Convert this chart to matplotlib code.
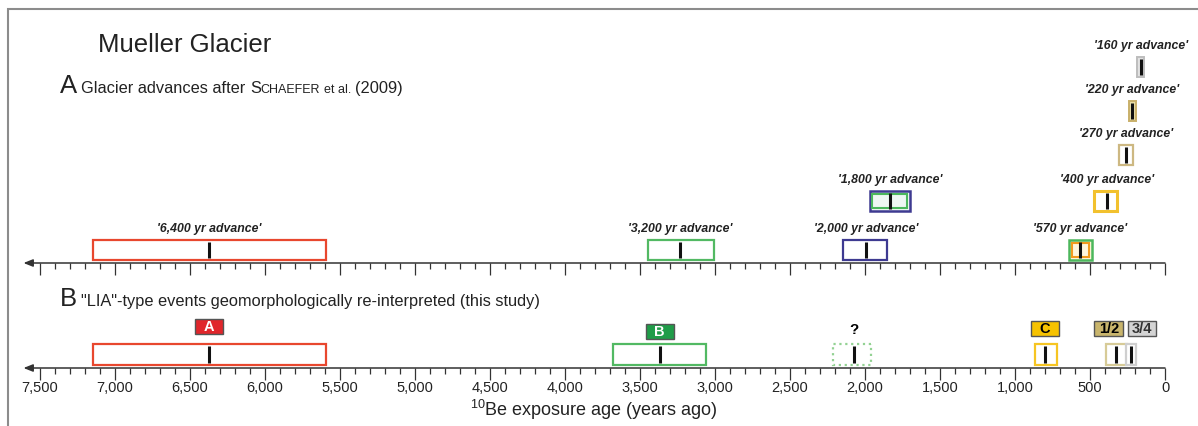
import matplotlib.pyplot as plt
from matplotlib.patches import Rectangle
import numpy as np

plt.rcParams['font.family'] = ['Liberation Sans', 'DejaVu Sans']
plt.rcParams['mathtext.fontset'] = 'custom'
plt.rcParams['mathtext.rm'] = 'Liberation Sans'

W, H = 1198, 427
X0, SC = 1165, 0.15   # pixel of 0 yr, pixels per year

# panel A: advances after Schaefer et al. (2009), years ago
a_names = ["'6,400 yr advance'", "'3,200 yr advance'", "'2,000 yr advance'",
           "'1,800 yr advance'", "'570 yr advance'", "'400 yr advance'",
           "'270 yr advance'", "'220 yr advance'", "'160 yr advance'"]
a_mid = [6373, 3233, 1993, 1833, 567, 387, 262, 220, 160]
a_old = [7150, 3450, 2145, 1970, 640, 473, 305, 240, 187]
a_young = [5595, 3005, 1855, 1700, 487, 320, 213, 193, 137]

# panel B: "LIA"-type events re-interpreted
b_names = ['A', 'B', '?', 'C', '1/2', '3/4']
b_mid = [6373, 3370, 2073, 800, 327, 227]
b_old = [7150, 3680, 2213, 867, 393, 260]
b_young = [5595, 3060, 1960, 720, 253, 193]

ticks = list(range(0, 7501, 500))
minor = list(range(0, 7501, 100))

# styles
a_row = [0, 0, 0, 1, 0, 1, 2, 3, 4]
a_edge = ['#e8472e', '#52b963', '#3e3a91', '#3e3a91', '#4cb75c', '#f2c12e', '#cdb882', '#c9b06a', '#bdbdbd']
a_inner = [None, None, None, '#4cb75c', '#f29a1f', None, None, None, None]
a_fill = ['white', 'white', 'white', '#eef7f2', '#fff6dc', 'white', 'white', '#e9dfa8', '#e2e2e2']
a_lw = [1.6, 1.6, 1.6, 1.8, 1.8, 2.2, 1.6, 1.4, 1.4]

b_edge = ['#e8472e', '#52b963', '#93d293', '#f6c522', '#d7cb97', '#cfcfcf']
b_ls = ['-', '-', ':', '-', '-', '-']
b_lab_fc = ['#e0262b', '#1f9c48', None, '#f6c200', '#c9b56c', '#d4d4d4']
b_lab_tc = ['white', 'white', 'black', 'black', 'black', '#333333']
b_lab_dx = [0, 0, 0, 0, -7, 11]
b_lab_w = [28, 28, 0, 28, 29, 28]
b_lab_y = [327, 332, 330, 329, 329, 329]

fig = plt.figure(figsize=(W / 100, H / 100), dpi=100)
ax = fig.add_axes([0, 0, 1, 1])
ax.set_xlim(X0 / SC, (X0 - W) / SC)
ax.set_ylim(H, 0)
ax.axis('off')

# frame
fig.patches.append(Rectangle((8 / W, -0.1), 1.2, 1.1 - 10 / H, transform=fig.transFigure,
                             fill=False, ec='#8c8c8c', lw=1.5))


def time_axis(y):
    ax.annotate('', xy=(7610, y), xytext=(0, y),
                arrowprops=dict(arrowstyle='-|>,head_length=0.55,head_width=0.22',
                                color='#333333', lw=1.1, shrinkA=0, shrinkB=0))
    for v in minor:
        L = 12 if v % 500 == 0 else 6
        ax.plot([v, v], [y, y + L], color='#333333', lw=0.9, solid_capstyle='butt')


def box(old, young, top, h, ec, lw, fc='white', ls='-', z=2):
    ax.add_patch(Rectangle((young, top), old - young, h, fc=fc, ec=ec, lw=lw, ls=ls, zorder=z))


def mid_line(x, top, h):
    ax.plot([x, x], [top + 2, top + h - 2], color='#111111', lw=2.2, zorder=5, solid_capstyle='butt')


# ---- panel A ----
yA = 264
time_axis(yA)
row_top = [241, 192, 146, 102, 58]
for i, name in enumerate(a_names):
    top = row_top[a_row[i]]
    h = 20
    box(a_old[i], a_young[i], top, h, a_edge[i], a_lw[i], a_fill[i])
    if a_inner[i]:
        d = 2.6 / SC
        box(a_old[i] - d, a_young[i] + d, top + 2.6, h - 5.2, a_inner[i], 1.5, a_fill[i], z=3)
    mid_line(a_mid[i], top, h)
    ax.text(a_mid[i], top - 12, name, ha='center', va='center', fontsize=8.8,
            fontweight='bold', style='italic', color='#222222')

# ---- panel B ----
yB = 369
time_axis(yB)
for i, name in enumerate(b_names):
    top, h = 345, 21
    box(b_old[i], b_young[i], top, h, b_edge[i], 1.6, 'white', b_ls[i])
    mid_line(b_mid[i], top, h)
    lx = b_mid[i] - b_lab_dx[i] / SC
    ly = b_lab_y[i]
    if b_lab_fc[i]:
        w = b_lab_w[i] / SC
        ax.add_patch(Rectangle((lx - w / 2, ly - 7.5), w, 15, fc=b_lab_fc[i], ec='#555555',
                               lw=1.0, zorder=4))
        ax.text(lx, ly + 0.5, name, ha='center', va='center', fontsize=10.5, fontweight='bold',
                color=b_lab_tc[i], zorder=6)
    else:
        ax.text(lx, ly, name, ha='center', va='center', fontsize=11, fontweight='bold',
                color=b_lab_tc[i])

for v in ticks:
    ax.text(v, 388, f'{v:,}', ha='center', va='center', fontsize=10.5, color='#222222')

# ---- texts ----
renderer = fig.canvas.get_renderer()


def run_text(x, y, pieces):
    for s, size, gap in pieces:
        t = fig.text(x / W, 1 - y / H, s, fontsize=size, va='baseline', ha='left', color='#222222')
        x += t.get_window_extent(renderer).width + gap


run_text(98, 52, [('Mueller Glacier', 18.5, 0)])
run_text(60, 93, [('A', 18.5, 4), ('Glacier advances after ', 11.8, 0), ('S', 11.8, 0),
                  ('CHAEFER', 9, 4), ('et al.', 9, 3), ('(2009)', 11.8, 0)])
run_text(60, 306, [('B', 18.5, 4),
                   ('"LIA"-type events geomorphologically re-interpreted (this study)', 11.8, 0)])
run_text(470, 416, [('$\\mathrm{^{10}}$Be exposure age (years ago)', 13, 0)])

fig.savefig('out.png', dpi=100)
